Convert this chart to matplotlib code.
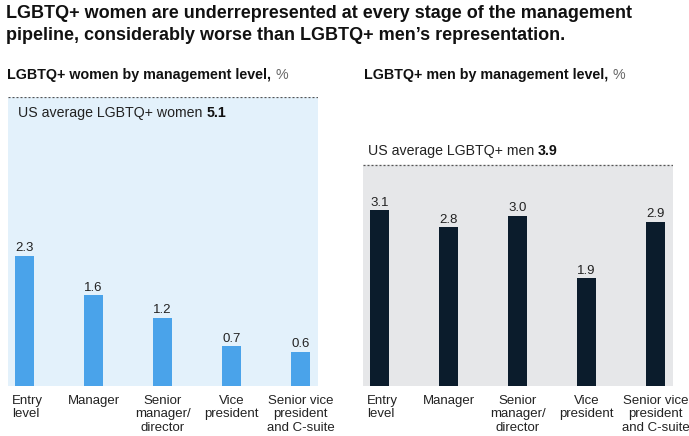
import matplotlib.pyplot as plt

plt.rcParams['font.family'] = ['Liberation Sans', 'DejaVu Sans']

levels = ['Entry\nlevel', 'Manager', 'Senior\nmanager/\ndirector', 'Vice\npresident',
          'Senior vice\npresident\nand C-suite']
women = [2.3, 1.6, 1.2, 0.7, 0.6]
men = [3.1, 2.8, 3.0, 1.9, 2.9]
avg_women = 5.1
avg_men = 3.9

W, H = 689, 436
fig = plt.figure(figsize=(W / 100, H / 100), dpi=100)
renderer = fig.canvas.get_renderer()


def panel(x0, values, avg, bar_color, bg_color):
    ax = fig.add_axes([x0 / W, (H - 386) / H, 310 / W, (386 - 97) / H])
    ax.set_xlim(-0.24, 4.25)
    ax.set_ylim(0, 5.1)
    ax.axhspan(0, avg, color=bg_color, zorder=0)
    ax.axhline(avg, color='#555555', lw=0.9, ls=(0, (1.6, 1.6)), zorder=1)
    x = range(len(values))
    ax.bar(x, values, width=0.275, color=bar_color, zorder=2)
    for i, v in enumerate(values):
        ax.text(i, v + 0.03, f'{v:.1f}', ha='center', va='bottom', fontsize=9.5, color='#222222')
    for i, lab in enumerate(levels):
        ma = 'left' if i == 0 else 'center'
        ax.text(i + (0.04 if i == 0 else 0), -0.15, lab, ha='center', va='top', fontsize=9.5,
                color='#222222', multialignment=ma, linespacing=1.22)
    for s in ax.spines.values():
        s.set_visible(False)
    ax.set_xticks([])
    ax.set_yticks([])
    return ax


def two_part(x, y, first, second, size, w1, w2, c1, c2):
    # second piece of text set right after the first on the same baseline
    t = fig.text(x / W, 1 - y / H, first, fontsize=size, fontweight=w1, color=c1, va='baseline')
    bb = t.get_window_extent(renderer)
    fig.text(bb.x1 / W, 1 - y / H, second, fontsize=size, fontweight=w2, color=c2, va='baseline')


panel(8, women, avg_women, '#4aa3ea', '#e3f1fb')
panel(363, men, avg_men, '#0b1c2c', '#e6e7e9')

two_part(18, 117, 'US average LGBTQ+ women ', '5.1', 10.2, 'normal', 'bold', '#222222', '#111111')
two_part(368, 155, 'US average LGBTQ+ men ', '3.9', 10.2, 'normal', 'bold', '#222222', '#111111')

two_part(7, 79, 'LGBTQ+ women by management level, ', '%', 10.3, 'bold', 'normal', '#111111', '#666666')
two_part(364, 79, 'LGBTQ+ men by management level, ', '%', 10.3, 'bold', 'normal', '#111111', '#666666')

fig.text(6 / W, 1 - 5 / H,
         'LGBTQ+ women are underrepresented at every stage of the management\n'
         'pipeline, considerably worse than LGBTQ+ men\u2019s representation.',
         fontsize=13.0, fontweight='bold', color='#111111', va='top', linespacing=1.42)

fig.savefig('out.png', dpi=100)
